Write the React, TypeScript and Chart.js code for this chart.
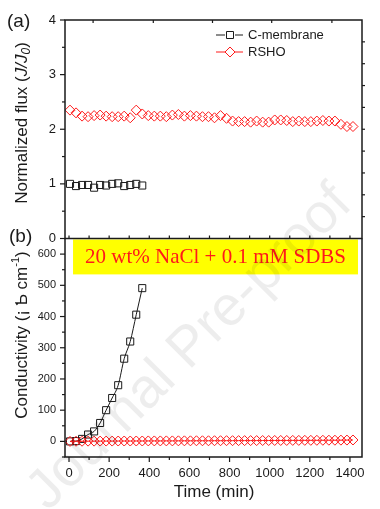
import React, { useEffect, useRef } from 'react';
import { Chart, registerables } from 'chart.js';
Chart.register(...registerables);

// ---------- data ----------
const seriesNames = ['C-membrane', 'RSHO'];
const timeC = [5, 35, 65, 95, 125, 155, 185, 215, 245, 275, 305, 335, 365];
const fluxC = [1.0, 0.96, 0.98, 0.98, 0.93, 0.98, 0.97, 1.0, 1.01, 0.96, 0.98, 1.0, 0.97];
const condC = [0, 1, 8, 22, 32, 59, 100, 139, 180, 265, 320, 406, 491];

const timeR = [
  5, 35, 65, 95, 125, 155, 185, 215, 245, 275, 305, 335, 365, 395, 425, 455,
  485, 515, 545, 575, 605, 635, 665, 695, 725, 755, 785, 815, 845, 875, 905, 935,
  965, 995, 1025, 1055, 1085, 1115, 1145, 1175, 1205, 1235, 1265, 1295, 1325, 1355, 1385, 1415,
];
const fluxR = [
  2.35, 2.30, 2.24, 2.23, 2.25, 2.26, 2.24, 2.23, 2.23, 2.24, 2.21, 2.35, 2.28, 2.25, 2.24, 2.24,
  2.23, 2.26, 2.27, 2.24, 2.25, 2.24, 2.23, 2.23, 2.21, 2.25, 2.20, 2.15, 2.14, 2.14, 2.13, 2.15,
  2.13, 2.13, 2.17, 2.17, 2.16, 2.14, 2.15, 2.14, 2.14, 2.15, 2.16, 2.15, 2.15, 2.09, 2.05, 2.05,
];
const condR = [
  0, 0.5, 0.5, 0.8, 0.8, 1, 1, 1, 1.2, 1.2, 1.2, 1.3, 1.3, 1.5, 1.5, 1.5,
  1.6, 1.6, 1.8, 1.8, 1.8, 2, 2, 2, 2.2, 2.2, 2.3, 2.3, 2.5, 2.5, 2.6, 2.6,
  2.8, 2.8, 3, 3, 3, 3.2, 3.2, 3.4, 3.4, 3.5, 3.6, 3.8, 3.8, 4, 4.2, 4.5,
];

const xTicks = [0, 200, 400, 600, 800, 1000, 1200, 1400];
const xMinor = [100, 300, 500, 700, 900, 1100, 1300];
const fluxTicks = [0, 1, 2, 3, 4];
const fluxMinor = [0.5, 1.5, 2.5, 3.5];
const fluxRight = [0.4, 0.8, 1.2, 1.6, 2.0, 2.4, 2.8, 3.2, 3.6];
const topAxisTicks = [120, 420, 715, 1010, 1310];
const condTicks = [0, 100, 200, 300, 400, 500, 600];
const condMinor = [-50, 50, 150, 250, 350, 450, 550];
const panelLabels = ['(a)', '(b)'];
const boxText = '20 wt% NaCl + 0.1 mM SDBS';
const xTitle = 'Time (min)';
const watermark = 'Journal Pre-proof';

const SANS = '"Liberation Sans", Arial, sans-serif';
const SERIF = '"Liberation Serif", "Times New Roman", serif';
const RED = '#ff1a1a';
const BLACK = '#1a1a1a';

const pts = (xs: number[], ys: number[]) => xs.map((x, i) => ({ x, y: ys[i] }));

function drawPieces(ctx: CanvasRenderingContext2D, pieces: { t: string; font: string; dy?: number }[]) {
  let total = 0;
  for (const p of pieces) { ctx.font = p.font; total += ctx.measureText(p.t).width; }
  let x = -total / 2;
  for (const p of pieces) {
    ctx.font = p.font;
    ctx.fillText(p.t, x, p.dy || 0);
    x += ctx.measureText(p.t).width;
  }
}

const deco = {
  id: 'deco',
  beforeDatasetsDraw(chart: any) {
    const { ctx } = chart;
    const x = chart.scales.x, yb = chart.scales.yBot;
    ctx.save();
    const x0 = x.getPixelForValue(20), x1 = x.getPixelForValue(1440);
    const y0 = yb.top + 1, y1 = yb.getPixelForValue(535);
    ctx.fillStyle = '#ffff00';
    ctx.fillRect(x0, y0, x1 - x0, y1 - y0);
    ctx.fillStyle = RED;
    ctx.font = `21px ${SERIF}`;
    ctx.textAlign = 'center';
    ctx.textBaseline = 'middle';
    ctx.fillText(boxText, (x0 + x1) / 2, (y0 + y1) / 2 + 1);
    ctx.restore();
  },
  afterDraw(chart: any) {
    const { ctx } = chart;
    const x = chart.scales.x, yt = chart.scales.yTop, yb = chart.scales.yBot;
    const L = chart.chartArea.left, R = chart.chartArea.right;
    const T = yt.top, M = yt.bottom, B = yb.bottom;
    ctx.save();
    ctx.strokeStyle = BLACK;
    ctx.lineWidth = 1.5;
    // frames
    ctx.strokeRect(L, T, R - L, M - T);
    ctx.beginPath();
    ctx.moveTo(L, M); ctx.lineTo(L, B); ctx.lineTo(R, B); ctx.lineTo(R, M);
    ctx.stroke();
    // ticks
    ctx.lineWidth = 1.2;
    const hTick = (scale: any, vals: number[], x0: number, len: number) => {
      for (const v of vals) {
        const py = scale.getPixelForValue(v);
        ctx.beginPath(); ctx.moveTo(x0, py); ctx.lineTo(x0 + len, py); ctx.stroke();
      }
    };
    const vTick = (vals: number[], y0: number, len: number) => {
      for (const v of vals) {
        const px = x.getPixelForValue(v);
        ctx.beginPath(); ctx.moveTo(px, y0); ctx.lineTo(px, y0 + len); ctx.stroke();
      }
    };
    hTick(yt, fluxTicks, L, -5);
    hTick(yt, fluxMinor, L, -3);
    hTick(yt, fluxRight, R, 3);
    vTick(topAxisTicks, T, 3);
    vTick([...xTicks, ...xMinor], M, -3);
    hTick(yb, condTicks, L, -5);
    hTick(yb, condMinor, L, -3);
    vTick(xTicks, B, 5);
    vTick(xMinor, B, 3);

    // legend
    const lx = 216, lx1 = 243, lc = 230;
    const rows = [{ y: 35, c: BLACK, s: 'sq' }, { y: 52, c: RED, s: 'dia' }];
    rows.forEach((r, i) => {
      ctx.strokeStyle = r.c; ctx.lineWidth = 1;
      ctx.beginPath(); ctx.moveTo(lx, r.y); ctx.lineTo(lc - 5, r.y); ctx.moveTo(lc + 5, r.y); ctx.lineTo(lx1, r.y); ctx.stroke();
      ctx.beginPath();
      if (r.s === 'sq') ctx.rect(lc - 3.5, r.y - 3.5, 7, 7);
      else { ctx.moveTo(lc - 5, r.y); ctx.lineTo(lc, r.y - 5); ctx.lineTo(lc + 5, r.y); ctx.lineTo(lc, r.y + 5); ctx.closePath(); }
      ctx.stroke();
      ctx.fillStyle = BLACK; ctx.font = `13px ${SANS}`;
      ctx.textAlign = 'left'; ctx.textBaseline = 'middle';
      ctx.fillText(seriesNames[i], 248, r.y);
    });

    // panel labels
    ctx.fillStyle = BLACK;
    ctx.font = `19px ${SANS}`;
    ctx.textAlign = 'left'; ctx.textBaseline = 'middle';
    ctx.fillText(panelLabels[0], 7, 22);
    ctx.fillText(panelLabels[1], 9, 237);

    // bottom tick label of the top panel (Chart.js drops it at the shared border)
    ctx.font = `13px ${SANS}`;
    ctx.textAlign = 'right';
    ctx.fillText(String(fluxTicks[0]), L - 9, yt.getPixelForValue(fluxTicks[0]));

    // x title
    ctx.font = `17px ${SANS}`;
    ctx.textAlign = 'center';
    ctx.fillText(xTitle, 214, 492);

    // y titles
    ctx.textAlign = 'left'; ctx.textBaseline = 'middle';
    ctx.save();
    ctx.translate(22, 123); ctx.rotate(-Math.PI / 2);
    drawPieces(ctx, [
      { t: 'Normalized flux (', font: `17px ${SANS}` },
      { t: 'J/J', font: `italic 17px ${SANS}` },
      { t: '0', font: `italic 12px ${SANS}`, dy: 5 },
      { t: ')', font: `17px ${SANS}` },
    ]);
    ctx.restore();
    ctx.save();
    ctx.translate(22, 335); ctx.rotate(-Math.PI / 2);
    drawPieces(ctx, [
      { t: 'Conductivity (¡ Ƅ cm', font: `17px ${SANS}` },
      { t: '-1', font: `11px ${SANS}`, dy: -6 },
      { t: ')', font: `17px ${SANS}` },
    ]);
    ctx.restore();

    // watermark
    ctx.save();
    ctx.globalAlpha = 0.07;
    ctx.fillStyle = '#000';
    ctx.translate(190, 348); ctx.rotate(-Math.PI / 4);
    ctx.font = `56px ${SANS}`;
    ctx.textAlign = 'center'; ctx.textBaseline = 'middle';
    ctx.fillText(watermark, 0, 0);
    ctx.restore();
    ctx.restore();
  },
};

export default function App() {
  const ref = useRef<HTMLCanvasElement>(null);
  useEffect(() => {
    document.body.style.margin = '0';
    const canvas = ref.current!;
    const tickFont = { family: SANS, size: 13 };
    const fmt = (v: any) => String(v);
    const chart = new Chart(canvas, {
      type: 'scatter',
      data: {
        datasets: [
          {
            label: seriesNames[0], yAxisID: 'yTop', data: pts(timeC, fluxC), showLine: false,
            pointStyle: 'rect', pointRadius: 5, pointBorderColor: BLACK, pointBackgroundColor: 'rgba(0,0,0,0)',
            pointBorderWidth: 1, borderColor: BLACK,
          },
          {
            label: seriesNames[1], yAxisID: 'yTop', data: pts(timeR, fluxR), showLine: false,
            pointStyle: 'rectRot', pointRadius: 5, pointBorderColor: RED, pointBackgroundColor: 'rgba(0,0,0,0)',
            pointBorderWidth: 1, borderColor: RED,
          },
          {
            label: seriesNames[1], yAxisID: 'yBot', data: pts(timeR, condR), showLine: true,
            pointStyle: 'rectRot', pointRadius: 5, pointBorderColor: RED, pointBackgroundColor: 'rgba(0,0,0,0)',
            pointBorderWidth: 1, borderColor: RED, borderWidth: 1,
          },
          {
            label: seriesNames[0], yAxisID: 'yBot', data: pts(timeC, condC), showLine: true,
            cubicInterpolationMode: 'monotone',
            pointStyle: 'rect', pointRadius: 5, pointBorderColor: BLACK, pointBackgroundColor: 'rgba(0,0,0,0)',
            pointBorderWidth: 1, borderColor: BLACK, borderWidth: 1,
          },
        ] as any,
      },
      options: {
        animation: false,
        responsive: false,
        devicePixelRatio: 1,
        layout: { padding: { top: 20, right: 18, left: 0, bottom: 0 } },
        plugins: { legend: { display: false }, tooltip: { enabled: false } },
        scales: {
          x: {
            type: 'linear', position: 'bottom', min: -20, max: 1460, offset: false,
            grid: { display: false, drawTicks: false }, border: { display: false },
            ticks: { font: tickFont, color: BLACK, padding: 9, maxRotation: 0, autoSkip: false, callback: fmt },
            afterBuildTicks: (s: any) => { s.ticks = xTicks.map((v) => ({ value: v })); },
            afterFit: (s: any) => { s.height = 52; },
          },
          yBot: {
            type: 'linear', position: 'left', stack: 'v', stackWeight: 1, min: -50, max: 650, offset: false,
            grid: { display: false, drawTicks: false }, border: { display: false },
            ticks: { font: { family: SANS, size: 11 }, color: BLACK, padding: 9, autoSkip: false, callback: fmt },
            afterBuildTicks: (s: any) => { s.ticks = condTicks.map((v) => ({ value: v })); },
            afterFit: (s: any) => { s.width = 65; },
          },
          yTop: {
            type: 'linear', position: 'left', stack: 'v', stackWeight: 1, min: 0, max: 4, offset: false,
            grid: { display: false, drawTicks: false }, border: { display: false },
            ticks: { font: tickFont, color: BLACK, padding: 9, autoSkip: false, callback: fmt },
            afterBuildTicks: (s: any) => { s.ticks = fluxTicks.slice(1).map((v) => ({ value: v })); },
            afterFit: (s: any) => { s.width = 65; },
          },
        } as any,
      },
      plugins: [deco],
    });
    return () => chart.destroy();
  }, []);
  return (
    <div style={{ width: 380, height: 509, position: 'relative', background: '#fff' }}>
      <canvas ref={ref} width={380} height={509} style={{ display: 'block', width: 380, height: 509 }} />
    </div>
  );
}
